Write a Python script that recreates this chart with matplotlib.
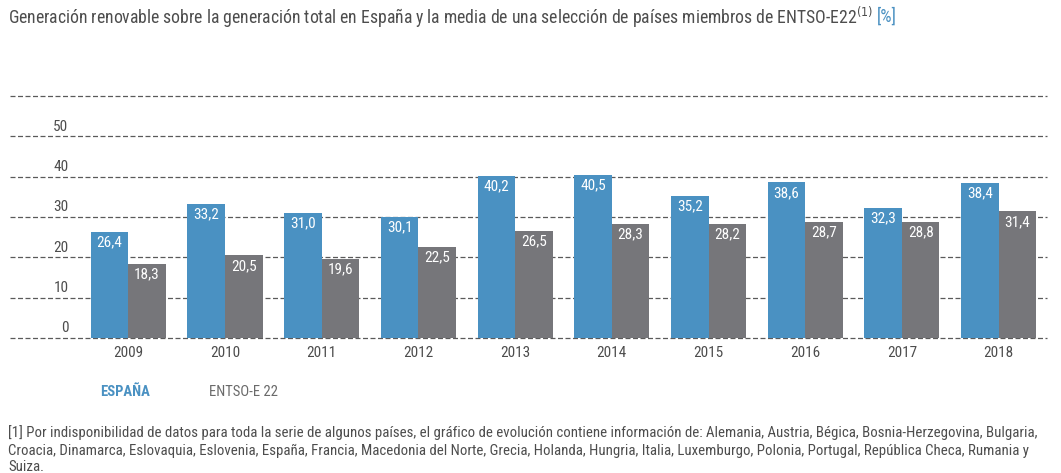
import matplotlib
matplotlib.use("Agg")
import matplotlib.pyplot as plt
import numpy as np

years = ["2009", "2010", "2011", "2012", "2013", "2014", "2015", "2016", "2017", "2018"]
espana = [26.4, 33.2, 31.0, 30.1, 40.2, 40.5, 35.2, 38.6, 32.3, 38.4]
entsoe = [18.3, 20.5, 19.6, 22.5, 26.5, 28.3, 28.2, 28.7, 28.8, 31.4]
yticks = [0, 10, 20, 30, 40, 50]

BLUE = "#4a91c2"
GREY = "#76767a"
TXT = "#4d4d4d"
plt.rcParams["font.family"] = ["Roboto Condensed", "DejaVu Sans"]
plt.rcParams["font.stretch"] = "condensed"

fig = plt.figure(figsize=(10.61, 4.73), dpi=100)
renderer = fig.canvas.get_renderer()


def fit(t, target_px):
    bb = t.get_window_extent(renderer)
    t.set_fontsize(t.get_fontsize() * target_px / bb.width)
    return t


ax = fig.add_axes([10/1061, 1-338/473, 1037/1061, 242/473])
x = np.arange(len(years))
w = 0.388
ax.bar(x - w/2, espana, w, color=BLUE, zorder=3)
ax.bar(x + w/2, entsoe, w, color=GREY, zorder=3)
ax.set_xlim(-1.223, 9.50)
ax.set_ylim(0, 60)
for v in range(0, 61, 10):
    ax.axhline(v, color="#5a5a5a", lw=0.9, ls=(0, (4, 2)), zorder=1, clip_on=False)
for v in yticks:
    ax.text(-0.62, v + 2.4, str(v), ha="right", va="center", fontsize=11, color=TXT)
for i in range(len(years)):
    ax.text(x[i] - w/2, espana[i] - 2.6, f"{espana[i]:.1f}".replace(".", ","),
            ha="center", va="center", color="white", fontsize=11)
    ax.text(x[i] + w/2, entsoe[i] - 2.6, f"{entsoe[i]:.1f}".replace(".", ","),
            ha="center", va="center", color="white", fontsize=11)
ax.set_xticks(x, years)
ax.tick_params(axis="x", length=0, pad=6, labelsize=11, labelcolor=TXT)
ax.set_yticks([])
for s in ax.spines.values():
    s.set_visible(False)

title = fig.text(8/1061, 1-17/473,
                 "Generación renovable sobre la generación total en España y la media de una selección de países miembros de ENTSO-E22$^{(1)}$",
                 fontsize=12.5, color=TXT, va="center", ha="left")
fit(title, 868)
tb = title.get_window_extent(renderer)
fig.text((tb.x1 + 4) / 1061, 1-17/473, "[%]", fontsize=title.get_fontsize(), color=BLUE,
         va="center", ha="left")

fig.text(100/1061, 1-392/473, "ESPAÑA", color=BLUE, fontsize=10.5, fontweight="bold", va="center")
fig.text(209/1061, 1-392/473, "ENTSO-E 22", color="#6a6a6a", fontsize=10.5, va="center")
foot_lines = [
    "[1] Por indisponibilidad de datos para toda la serie de algunos países, el gráfico de evolución contiene información de: Alemania, Austria, Bégica, Bosnia-Herzegovina, Bulgaria,",
    "Croacia, Dinamarca, Eslovaquia, Eslovenia, España, Francia, Macedonia del Norte, Grecia, Holanda, Hungria, Italia, Luxemburgo, Polonia, Portugal, República Checa, Rumania y",
    "Suiza.",
]
ys = [433, 451, 467]
t0 = fig.text(8/1061, 1-ys[0]/473, foot_lines[0], fontsize=10, color=TXT, va="center", ha="left")
fit(t0, 1020)
fs = t0.get_fontsize()
for line, yy in zip(foot_lines[1:], ys[1:]):
    fig.text(8/1061, 1-yy/473, line, fontsize=fs, color=TXT, va="center", ha="left")
fig.savefig("out.png", dpi=100)
